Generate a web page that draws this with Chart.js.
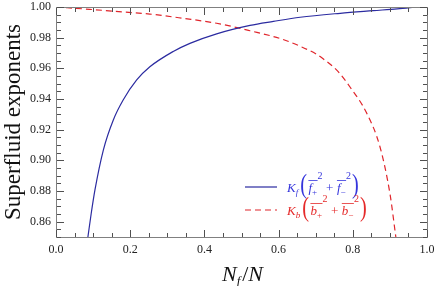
<!DOCTYPE html>
<html>
<head>
<meta charset="utf-8">
<script src="https://cdn.jsdelivr.net/npm/chart.js@4.4.0/dist/chart.umd.min.js"></script>
<style>
  html, body { margin: 0; padding: 0; background: #fff; }
  #wrap { width: 436px; height: 286px; }
</style>
</head>
<body>
<div id="wrap"><canvas id="chart"></canvas></div>
<script>
// values
const fermionX = [0.086, 0.095, 0.105, 0.1276, 0.1545, 0.181, 0.2175, 0.253, 0.316, 0.361, 0.433, 0.523, 0.586, 0.658, 0.766, 0.855, 0.92, 0.972];
const fermionY = [0.850, 0.8655, 0.8807, 0.9067, 0.9263, 0.9393, 0.9524, 0.961, 0.971, 0.9763, 0.9825, 0.9880, 0.9906, 0.9933, 0.9959, 0.9976, 0.9988, 1.000];

const bosonX = [0, 0.09, 0.18, 0.253, 0.343, 0.433, 0.523, 0.61, 0.66, 0.70, 0.72, 0.76, 0.792, 0.837, 0.873, 0.90, 0.916];
const bosonY = [1.000, 0.9985, 0.9968, 0.9954, 0.9926, 0.9894, 0.9845, 0.979, 0.9742, 0.9695, 0.9662, 0.958, 0.948, 0.931, 0.909, 0.8785, 0.85];

const xTickLabels = ['0.0', '0.2', '0.4', '0.6', '0.8', '1.0'];
const yTickLabels = ['0.86', '0.88', '0.90', '0.92', '0.94', '0.96', '0.98', '1.00'];

const blueLine = '#2b2ba0';
const redLine = '#e0252b';
const blueText = '#3535dc';
const redText = '#e52a2a';

const toPoints = (xs, ys) => xs.map((x, i) => ({ x: x, y: ys[i] }));

const isMajorX = v => Math.round(v * 100) % 20 === 0;
const isMajorY = v => Math.round(v * 1000) % 20 === 0;

// one legend entry: sample line + K_s( s̄+^2 + s̄-^2 )
function legendEntry(ctx, x0, y, lineColor, textColor, dash, sym) {
    ctx.save();
    ctx.strokeStyle = lineColor;
    ctx.lineWidth = 1.2;
    ctx.setLineDash(dash);
    ctx.beginPath();
    ctx.moveTo(x0, y);
    ctx.lineTo(x0 + 32, y);
    ctx.stroke();
    ctx.setLineDash([]);

    const base = y + 5;
    let cx = x0 + 42;
    ctx.fillStyle = textColor;
    ctx.strokeStyle = textColor;
    ctx.lineWidth = 0.8;
    ctx.textBaseline = 'alphabetic';

    ctx.font = 'italic 13px "Liberation Serif"';
    ctx.fillText('K', cx, base);
    cx += ctx.measureText('K').width;
    ctx.font = 'italic 9px "Liberation Serif"';
    ctx.fillText(sym, cx, base + 3);
    cx += ctx.measureText(sym).width + 2;

    // left paren, stretched tall
    ctx.save();
    ctx.translate(cx, base + 1);
    ctx.scale(0.75, 1);
    ctx.font = '27px "Liberation Serif"';
    ctx.fillText('(', 0, 0);
    const pw = ctx.measureText('(').width * 0.75;
    ctx.restore();
    cx += pw + 1.5;

    const term = (sign) => {
        const start = cx;
        ctx.font = 'italic 13px "Liberation Serif"';
        ctx.fillText(sym, cx, base);
        cx += ctx.measureText(sym).width;
        ctx.font = '9px "Liberation Serif"';
        ctx.fillText(sign, cx, base + 3);
        cx += ctx.measureText(sign).width + 0.5;
        ctx.beginPath();
        ctx.moveTo(start, base - 11.5);
        ctx.lineTo(cx, base - 11.5);
        ctx.stroke();
        ctx.font = '10px "Liberation Serif"';
        ctx.fillText('2', cx, base - 13);
        cx += ctx.measureText('2').width;
    };

    term('+');
    cx += 3.5;
    ctx.font = '13px "Liberation Serif"';
    ctx.fillText('+', cx, base);
    cx += ctx.measureText('+').width + 3.5;
    term('\u2212');
    cx += 1;

    ctx.save();
    ctx.translate(cx, base + 1);
    ctx.scale(0.75, 1);
    ctx.font = '27px "Liberation Serif"';
    ctx.fillText(')', 0, 0);
    ctx.restore();
    ctx.restore();
}

const framePlugin = {
    id: 'frame',
    afterDraw(chart) {
        const ctx = chart.ctx;
        const a = chart.chartArea;
        const xs = chart.scales.x;
        const ys = chart.scales.y;
        const L = Math.round(a.left), T = Math.round(a.top);
        const R = Math.round(a.right), B = Math.round(a.bottom);
        ctx.save();
        ctx.setLineDash([]);
        ctx.lineWidth = 1;
        ctx.strokeStyle = '#808080';
        ctx.strokeRect(L + 0.5, T + 0.5, R - L, B - T);

        // inward ticks, top/bottom and left/right
        ctx.strokeStyle = '#505050';
        ctx.lineWidth = 1;
        ctx.beginPath();
        xs.ticks.forEach(t => {
            const len = isMajorX(t.value) ? 7 : 4;
            const px = Math.round(xs.getPixelForValue(t.value)) + 0.5;
            ctx.moveTo(px, B);
            ctx.lineTo(px, B - len);
            ctx.moveTo(px, T + 1);
            ctx.lineTo(px, T + 1 + len);
        });
        ys.ticks.forEach(t => {
            const len = isMajorY(t.value) ? 7 : 4;
            const py = Math.round(ys.getPixelForValue(t.value)) + 0.5;
            ctx.moveTo(L + 1, py);
            ctx.lineTo(L + 1 + len, py);
            ctx.moveTo(R, py);
            ctx.lineTo(R - len, py);
        });
        ctx.stroke();

        // x axis title N_f / N
        const cy = B + 44;
        const cxMid = (L + R) / 2 + 1;
        ctx.fillStyle = '#111';
        ctx.textBaseline = 'alphabetic';
        ctx.font = 'italic 22px "Liberation Serif"';
        const wN = ctx.measureText('N').width;
        ctx.font = 'italic 13px "Liberation Serif"';
        const wf = ctx.measureText('f').width;
        ctx.font = '22px "Liberation Serif"';
        const wS = ctx.measureText('/').width;
        let tx = cxMid - (wN * 2 + wf + wS + 2) / 2;
        ctx.font = 'italic 22px "Liberation Serif"';
        ctx.fillText('N', tx, cy);
        tx += wN;
        ctx.font = 'italic 13px "Liberation Serif"';
        ctx.fillText('f', tx, cy + 4);
        tx += wf + 2;
        ctx.font = '22px "Liberation Serif"';
        ctx.fillText('/', tx, cy);
        tx += wS;
        ctx.font = 'italic 22px "Liberation Serif"';
        ctx.fillText('N', tx, cy);
        ctx.restore();

        legendEntry(ctx, L + 189, T + 180, blueLine, blueText, [], 'f');
        legendEntry(ctx, L + 189, T + 203, redLine, redText, [6, 4], 'b');
    }
};

new Chart(document.getElementById('chart'), {
    type: 'scatter',
    data: {
        datasets: [{
            label: 'Kf',
            data: toPoints(fermionX, fermionY),
            showLine: true,
            borderColor: blueLine,
            borderWidth: 1.2,
            pointRadius: 0,
            cubicInterpolationMode: 'monotone'
        }, {
            label: 'Kb',
            data: toPoints(bosonX, bosonY),
            showLine: true,
            borderColor: redLine,
            borderWidth: 1.2,
            borderDash: [6, 4],
            pointRadius: 0,
            cubicInterpolationMode: 'monotone'
        }]
    },
    options: {
        responsive: true,
        maintainAspectRatio: false,
        animation: false,
        layout: { padding: { left: 0, right: 9, top: 7, bottom: 0 } },
        plugins: { legend: { display: false }, tooltip: { enabled: false } },
        scales: {
            x: {
                type: 'linear',
                min: 0,
                max: 1,
                grid: { display: false, drawTicks: false },
                border: { display: false },
                afterFit: s => { s.height = 49; s.paddingLeft = 0; s.paddingRight = 0; },
                ticks: {
                    stepSize: 0.05,
                    autoSkip: false,
                    maxRotation: 0,
                    padding: 6,
                    color: '#222',
                    font: { family: 'Liberation Serif', size: 12 },
                    callback: v => {
                        if (!isMajorX(v)) return '';
                        const s = (Math.round(v * 10) / 10).toFixed(1);
                        return xTickLabels.includes(s) ? s : '';
                    }
                }
            },
            y: {
                type: 'linear',
                min: 0.85,
                max: 1.0,
                grid: { display: false, drawTicks: false },
                border: { display: false },
                afterFit: s => { s.width = 56; s.paddingTop = 0; s.paddingBottom = 0; },
                title: {
                    display: true,
                    text: 'Superfluid exponents',
                    color: '#111',
                    padding: 0,
                    font: { family: 'Liberation Serif', size: 23 }
                },
                ticks: {
                    stepSize: 0.005,
                    autoSkip: false,
                    padding: 5,
                    color: '#222',
                    font: { family: 'Liberation Serif', size: 12 },
                    callback: v => {
                        if (!isMajorY(v)) return '';
                        const s = (Math.round(v * 100) / 100).toFixed(2);
                        return yTickLabels.includes(s) ? s : '';
                    }
                }
            }
        }
    },
    plugins: [framePlugin]
});
</script>
</body>
</html>
